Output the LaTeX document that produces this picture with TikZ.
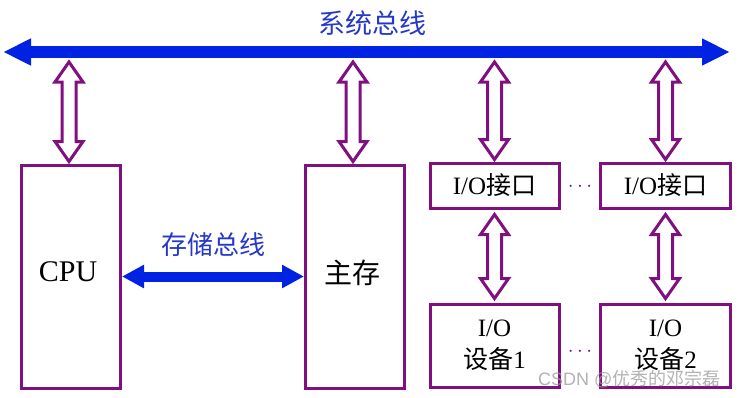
\documentclass[tikz,border=0pt]{standalone}
\usepackage{fontspec}
\setmainfont{Liberation Serif}
\setsansfont{Liberation Sans}
\newfontfamily\cjk{Noto Sans CJK SC}
\usetikzlibrary{arrows.meta,calc}
\definecolor{busblue}{RGB}{0,34,226}
\definecolor{lblblue}{RGB}{38,56,200}
\definecolor{purp}{RGB}{128,16,128}
\tikzset{
  box/.style={draw=purp, line width=3pt, fill=white, inner sep=0pt, align=center},
  hollow/.style={draw=purp, line width=3pt, fill=white, line join=miter},
  sysbus/.style={line width=12pt, draw=busblue, {Triangle[length=28pt,width=25pt]}-{Triangle[length=28pt,width=25pt]}},
  membus/.style={line width=10pt, draw=busblue, {Triangle[length=22pt,width=22pt]}-{Triangle[length=22pt,width=22pt]}},
  buslabel/.style={text=lblblue, font=\cjk\fontsize{27}{30}\selectfont},
  boxtext/.style={font=\fontsize{25}{32}\selectfont},
  dots/.style={text=purp, font=\fontsize{22}{24}\selectfont}
}
\newcommand\hollowdbl[2]{%
  \draw[hollow] let \p1=#1, \p2=#2 in
    (\x1,\y1) -- (\x1-14pt,\y1-20pt) -- (\x1-7pt,\y1-20pt) -- (\x1-7pt,\y2+20pt)
    -- (\x1-14pt,\y2+20pt) -- (\x1,\y2) -- (\x1+14pt,\y2+20pt) -- (\x1+7pt,\y2+20pt)
    -- (\x1+7pt,\y1-20pt) -- (\x1+14pt,\y1-20pt) -- cycle;}
\begin{document}
\begin{tikzpicture}[x=1pt,y=-1pt]
\useasboundingbox (0,0) rectangle (740,397);
\fill[white] (0,0) rectangle (740,397);
% system bus
\coordinate (busL) at (3,52);
\coordinate (busR) at (730,52);
\coordinate (busB) at (0,62);
\draw[sysbus] (busL) -- (busR);
\node[buslabel] (syslbl) at (372,23) {系统总线};
% boxes
\node[box, minimum width=99pt, minimum height=223pt] (cpu) at (71,276.5) {};
\node[boxtext] (cputxt) at (68,272) {\fontsize{30}{32}\selectfont CPU};
\node[box, minimum width=99pt, minimum height=223pt] (mem) at (355,276.5) {};
\node[boxtext, font=\cjk\fontsize{28}{32}\selectfont] (memtxt) at (352,273) {主存};
\node[box, boxtext, minimum width=129pt, minimum height=45pt] (if1) at (494.5,185.5) {I/O{\cjk 接口}};
\node[box, boxtext, minimum width=130pt, minimum height=45pt] (if2) at (665.5,185.5) {I/O{\cjk 接口}};
\node[box, boxtext, minimum width=129pt, minimum height=83pt] (dev1) at (494.5,345.5) {I/O\\{\cjk 设备}1};
\node[box, boxtext, minimum width=130pt, minimum height=83pt] (dev2) at (665.5,345.5) {I/O\\{\cjk 设备}2};
\node[dots] (d1) at (580,187) {$\cdots$};
\node[dots] (d2) at (580,352) {$\cdots$};
% memory bus
\draw[membus] (cpu.east) -- (mem.west);
\node[buslabel, font=\cjk\fontsize{26}{30}\selectfont] (memlbl) at (213,245) {存储总线};
% hollow double arrows
\hollowdbl{([xshift=-2pt]cpu.north |- busB)}{([xshift=-2pt,yshift=2pt]cpu.north)}
\hollowdbl{([xshift=-2pt]mem.north |- busB)}{([xshift=-2pt,yshift=2pt]mem.north)}
\hollowdbl{(if1.north |- busB)}{([yshift=2pt]if1.north)}
\hollowdbl{(if2.north |- busB)}{([yshift=2pt]if2.north)}
\hollowdbl{([yshift=-5pt]if1.south)}{([yshift=4pt]dev1.north)}
\hollowdbl{([yshift=-5pt]if2.south)}{([yshift=4pt]dev2.north)}
% watermark
\node[text=gray!80, opacity=0.75, font=\sffamily\fontsize{18}{20}\selectfont, anchor=east] (wm) at (724,379) {CSDN @{\cjk 优秀的邓宗磊}};
\end{tikzpicture}
\end{document}
